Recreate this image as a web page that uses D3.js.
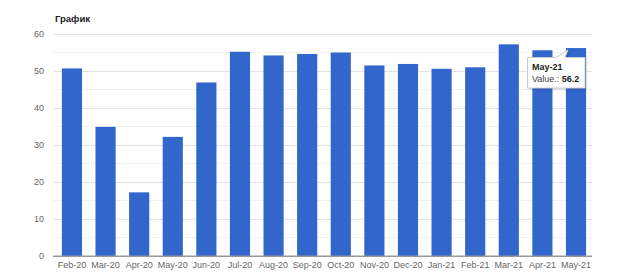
<!DOCTYPE html>
<html>
<head>
<meta charset="utf-8">
<script src="https://cdn.jsdelivr.net/npm/d3@7"></script>
<style>
  body { margin: 0; background: #fff; font-family: Arial, "Liberation Sans", sans-serif; }
  .tick text { fill: #666; font-size: 9px; }
</style>
</head>
<body>
<div id="chart"></div>
<script>
var svgWidth = 620;
var svgHeight = 277;

var margin = { top: 34, right: 28, bottom: 21, left: 53 };
var width = svgWidth - margin.left - margin.right;
var height = svgHeight - margin.top - margin.bottom;

// data
var months = ["Feb-20", "Mar-20", "Apr-20", "May-20", "Jun-20", "Jul-20", "Aug-20", "Sep-20",
  "Oct-20", "Nov-20", "Dec-20", "Jan-21", "Feb-21", "Mar-21", "Apr-21", "May-21"];
var values = [50.7, 34.9, 17.2, 32.2, 46.9, 55.2, 54.2, 54.6,
  55.0, 51.5, 51.9, 50.6, 51.0, 57.2, 55.6, 56.2];
var yTicks = [0, 10, 20, 30, 40, 50, 60];
var minorTicks = [5, 15, 25, 35, 45, 55];

var data = months.map((m, i) => ({ month: m, value: values[i] }));

var svg = d3.select("#chart")
  .append("svg")
  .attr("width", svgWidth)
  .attr("height", svgHeight);

var chartGroup = svg.append("g")
  .attr("transform", `translate(${margin.left}, ${margin.top})`);

var xScale = d3.scaleBand()
  .domain(months)
  .range([0, width])
  .paddingInner(0.4)
  .paddingOuter(0.22)
  .align(0.6);

var yScale = d3.scaleLinear()
  .domain([0, 60])
  .range([height, 0]);

// title
svg.append("text")
  .attr("x", 55)
  .attr("y", 22)
  .style("font-size", "9.5px")
  .style("font-weight", "bold")
  .style("fill", "#222")
  .text("График");

// minor gridlines
chartGroup.selectAll(".minor")
  .data(minorTicks)
  .enter()
  .append("line")
  .attr("x1", 0)
  .attr("x2", width)
  .attr("y1", d => yScale(d))
  .attr("y2", d => yScale(d))
  .attr("stroke", "#f1f1f1")
  .attr("stroke-width", 1);

// y axis with major gridlines
var leftAxis = d3.axisLeft(yScale)
  .tickValues(yTicks)
  .tickSize(-width)
  .tickPadding(9);

var yAxis = chartGroup.append("g")
  .call(leftAxis);
yAxis.select(".domain").remove();
yAxis.selectAll(".tick line")
  .attr("stroke", d => d === 0 ? "#999" : "#e3e3e3");

// bars
chartGroup.selectAll("rect")
  .data(data)
  .enter()
  .append("rect")
  .attr("x", d => xScale(d.month))
  .attr("y", d => yScale(d.value))
  .attr("width", xScale.bandwidth())
  .attr("height", d => height - yScale(d.value))
  .attr("fill", "#3366cc");

// x axis
var bottomAxis = d3.axisBottom(xScale)
  .tickSize(0)
  .tickPadding(6);

var xAxis = chartGroup.append("g")
  .attr("transform", `translate(0, ${height})`)
  .call(bottomAxis);
xAxis.select(".domain").remove();

// baseline on top of bars
chartGroup.append("line")
  .attr("x1", 0)
  .attr("x2", width)
  .attr("y1", yScale(0))
  .attr("y2", yScale(0))
  .attr("stroke", "#999");

// tooltip for last bar
var last = data[data.length - 1];
var tipX = 527 - margin.left;
var tipY = 57 - margin.top;
var tipW = 58;
var tipH = 31;
var arrowX = xScale(last.month) - 2;

var tip = chartGroup.append("g");
tip.append("path")
  .attr("d", `M${tipX + 0.5},${tipY + 0.5} H${arrowX - 8} L${arrowX + 4},${yScale(last.value) + 2} L${arrowX + 1},${tipY + 0.5} H${tipX + tipW} V${tipY + tipH} H${tipX + 0.5} Z`)
  .attr("fill", "#fff")
  .attr("stroke", "#ccc")
  .attr("stroke-width", 1)
  .style("filter", "drop-shadow(1px 1px 1px rgba(0,0,0,0.15))");

tip.append("text")
  .attr("x", tipX + 5)
  .attr("y", tipY + 13)
  .style("font-size", "9px")
  .style("font-weight", "bold")
  .style("fill", "#222")
  .text(last.month);

var valText = tip.append("text")
  .attr("x", tipX + 5)
  .attr("y", tipY + 25)
  .style("font-size", "9px")
  .style("fill", "#444");
valText.append("tspan").text("Value.: ");
valText.append("tspan")
  .style("font-weight", "bold")
  .style("fill", "#222")
  .text(last.value.toFixed(1));
</script>
</body>
</html>
